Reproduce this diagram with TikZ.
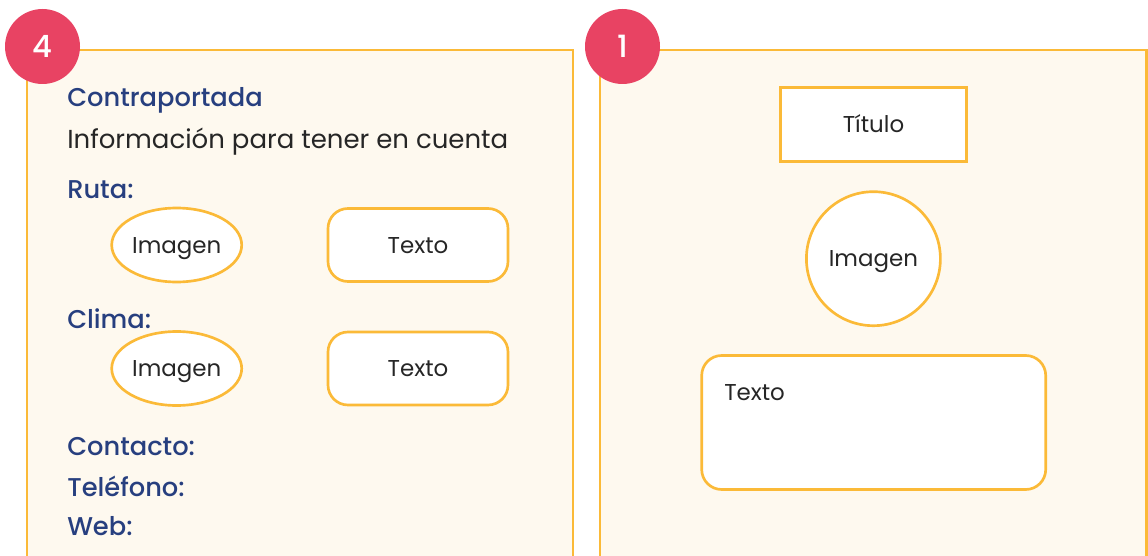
\documentclass[tikz,border=0pt]{standalone}
\usepackage{fontspec}
\setmainfont{Poppins}[BoldFont={Poppins Medium}]
\usetikzlibrary{shapes.geometric}
\definecolor{panelline}{HTML}{FBBA38}
\definecolor{panelfill}{HTML}{FEF9EF}
\definecolor{badgered}{HTML}{E84363}
\definecolor{headblue}{HTML}{273F7F}
\definecolor{textgray}{HTML}{262626}
\begin{document}
\begin{tikzpicture}[x=0.75pt, y=-0.75pt,
    panel/.style={draw=panelline, line width=2pt, fill=panelfill},
    badge/.style={circle, fill=badgered, minimum size=56.25pt, inner sep=0pt, text=white, font=\bfseries\fontsize{23}{23}\selectfont},
    heading/.style={anchor=base west, inner sep=0pt, text=headblue, font=\bfseries\fontsize{19.3}{19.3}\selectfont},
    plain/.style={anchor=base west, inner sep=0pt, text=textgray, font=\fontsize{19.5}{19.5}\selectfont},
    shapebox/.style={draw=panelline, line width=2pt, fill=white, inner sep=0pt, text=textgray, text height=15.3pt, text depth=3.3pt, font=\fontsize{17.2}{17.2}\selectfont},
    imagen/.style={shapebox, ellipse, minimum width=97.5pt, minimum height=55.5pt},
    textobox/.style={shapebox, rectangle, rounded corners=15pt, minimum width=135pt, minimum height=54.75pt},
    titlebox/.style={shapebox, rectangle, minimum width=139.5pt, minimum height=55.5pt}]
    \useasboundingbox (0,0) rectangle (1148,556);
    % panels
    \path[panel] (27,556) -- (27,50) -- (573,50) -- (573,556);
    \path[panel] (600,556) -- (600,50) -- (1146.5,50) -- (1146.5,556);
    \node[badge] (back) at (42.5,46.5) {4};
    \node[badge] (front) at (622.5,46.5) {1};
    % contraportada
    \node[heading] (contraportada) at (67,106.5) {Contraportada};
    \node[plain] (info) at (67,148) {Información para tener en cuenta};
    \node[heading] (ruta) at (67,198) {Ruta:};
    \node[imagen] (rutaimg) at (176.7,245) {Imagen};
    \node[textobox] (rutatxt) at (418,245) {Texto};
    \node[heading] (clima) at (67,328) {Clima:};
    \node[imagen] (climaimg) at (176.7,368.5) {Imagen};
    \node[textobox] (climatxt) at (418,368.5) {Texto};
    \node[heading] (contacto) at (67,455) {Contacto:};
    \node[heading] (telefono) at (67,496) {Teléfono:};
    \node[heading] (web) at (67,535) {Web:};
    % portada
    \node[titlebox] (titulo) at (873.5,124.5) {Título};
    \node[shapebox, circle, minimum size=100.5pt] (portadaimg) at (873.4,258.7) {Imagen};
    \node[textobox, minimum width=258pt, minimum height=100.5pt] (portadatxt) at (873.7,422.5) {};
    \node[anchor=base west, inner sep=0pt, text=textgray, font=\fontsize{17.2}{17.2}\selectfont] (portadalabel) at (724,400.7) {Texto};
\end{tikzpicture}
\end{document}
